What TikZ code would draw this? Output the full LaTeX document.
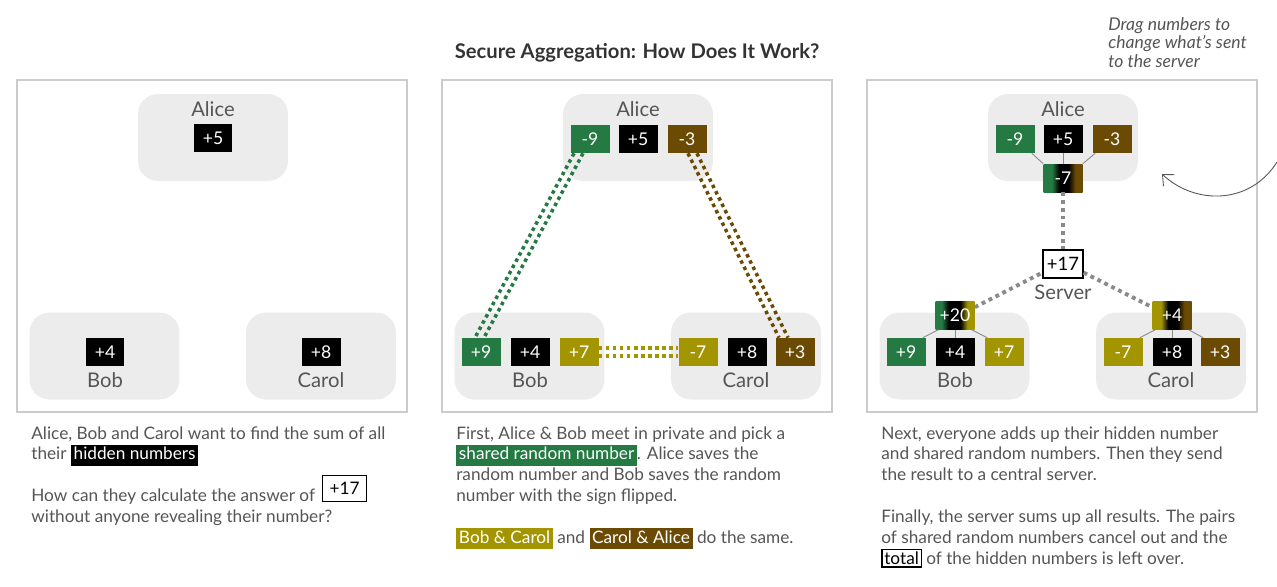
\documentclass[tikz,border=0pt]{standalone}
\usepackage{fontspec}
\setmainfont{Lato}
\usepackage{tikz}
\usetikzlibrary{calc,arrows.meta}

\definecolor{grn}{HTML}{247A42}
\definecolor{olv}{HTML}{A39500}
\definecolor{brn}{HTML}{6B4A04}
\definecolor{txt}{HTML}{555555}
\definecolor{heading}{HTML}{333333}
\definecolor{pane}{HTML}{CCCCCC}
\definecolor{bubblegray}{HTML}{ECECEC}
\definecolor{dots}{HTML}{8A8A8A}

% sum boxes: solid ends, black middle
\pgfdeclarehorizontalshading{mixgb}{100bp}{color(0bp)=(grn); color(36bp)=(grn); color(45bp)=(black); color(57bp)=(black); color(66bp)=(brn); color(100bp)=(brn)}
\pgfdeclarehorizontalshading{mixgo}{100bp}{color(0bp)=(grn); color(33bp)=(grn); color(42bp)=(black); color(57bp)=(black); color(66bp)=(olv); color(100bp)=(olv)}
\pgfdeclarehorizontalshading{mixob}{100bp}{color(0bp)=(olv); color(36bp)=(olv); color(45bp)=(black); color(57bp)=(black); color(66bp)=(brn); color(100bp)=(brn)}

\newcommand{\hilite}[2]{{\setlength{\fboxsep}{1.5pt}\colorbox{#1}{\vphantom{Ag}\color{white}#2}}}
\newcommand{\answerbox}[1]{{\setlength{\fboxsep}{3.6pt}\setlength{\fboxrule}{0.7pt}\fcolorbox{black}{white}{\color{black}#1}}}
\newcommand{\totalbox}[1]{{\setlength{\fboxsep}{1pt}\setlength{\fboxrule}{0.7pt}\fcolorbox{black}{white}{\color{black}#1}}}

\begin{document}
\begin{tikzpicture}[x=0.02cm, y=-0.02cm,
    panel/.style={draw=pane, line width=0.6pt},
    bubble/.style={fill=bubblegray, rounded corners=0.4cm, minimum width=3cm, minimum height=1.74cm, inner sep=0pt},
    who/.style={text=txt, inner sep=0pt, font=\fontsize{11.5}{13}\selectfont},
    numbox/.style={minimum width=0.78cm, minimum height=0.56cm, inner sep=0pt, text=white, font=\fontsize{10}{12}\selectfont},
    sumbox/.style={numbox, shading=#1},
    pairline/.style={line width=2pt, dash pattern=on 2pt off 2pt},
    wire/.style={draw=dots, line width=0.5pt},
    send/.style={draw=dots, line width=2.2pt, dash pattern=on 2.2pt off 2.2pt},
    note/.style={anchor=north west, align=left, text=txt, inner sep=0pt, font=\fontsize{9.8}{11.9}\selectfont}
]
    \useasboundingbox (0,0) rectangle (1277,586);

    \node[font=\bfseries\fontsize{11.5}{13}\selectfont, text=heading] (title) at (637,53) {Secure Aggregation: How Does It Work?};

    \foreach \px in {17,442,867}
        \draw[panel] (\px,80) rectangle ++(390,332);

    % panel 1: hidden numbers only
    \node[bubble] (p1alice) at (213,137.5) {};
    \node[bubble] (p1bob) at (104.5,356) {};
    \node[bubble] (p1carol) at (321,356) {};
    \node[who] (p1aname) at (213,109) {Alice};
    \node[who] (p1bname) at (105,380) {Bob};
    \node[who] (p1cname) at (321,380) {Carol};
    \node[numbox, fill=black] (p1a5) at (213,138) {+5};
    \node[numbox, fill=black] (p1b4) at (105,352) {+4};
    \node[numbox, fill=black] (p1c8) at (321,352) {+8};

    % panel 2: pairs pick shared random numbers
    \node[bubble] (p2alice) at (638,137.5) {};
    \node[bubble] (p2bob) at (529.5,356) {};
    \node[bubble] (p2carol) at (746,356) {};
    \node[who] (p2aname) at (638,109) {Alice};
    \node[who] (p2bname) at (530,380) {Bob};
    \node[who] (p2cname) at (746,380) {Carol};
    \node[numbox, fill=grn] (p2am9) at (590,139) {-9};
    \node[numbox, fill=black] (p2a5) at (638,139) {+5};
    \node[numbox, fill=brn] (p2am3) at (687,139) {-3};
    \node[numbox, fill=grn] (p2bp9) at (481,352) {+9};
    \node[numbox, fill=black] (p2b4) at (530,352) {+4};
    \node[numbox, fill=olv] (p2bp7) at (579,352) {+7};
    \node[numbox, fill=olv] (p2cm7) at (698,352) {-7};
    \node[numbox, fill=black] (p2c8) at (747,352) {+8};
    \node[numbox, fill=brn] (p2cp3) at (795,352) {+3};

    \draw[pairline, grn] ($(p2am9.south)+(-16,0)$) -- ($(p2bp9.north)+(-6,0)$);
    \draw[pairline, grn] ($(p2am9.south)+(-7,0)$) -- ($(p2bp9.north)+(3,0)$);
    \draw[pairline, olv] ($(p2bp7.east)+(0,-4)$) -- ($(p2cm7.west)+(0,-4)$);
    \draw[pairline, olv] ($(p2bp7.east)+(0,4)$) -- ($(p2cm7.west)+(0,4)$);
    \draw[pairline, brn] ($(p2am3.south)+(1,0)$) -- ($(p2cp3.north)+(-16,0)$);
    \draw[pairline, brn] ($(p2am3.south)+(10,0)$) -- ($(p2cp3.north)+(-7,0)$);

    % panel 3: sums go to the server
    \node[bubble] (p3alice) at (1063,137.5) {};
    \node[bubble] (p3bob) at (954.5,356) {};
    \node[bubble] (p3carol) at (1171,356) {};
    \node[who] (p3aname) at (1063,109) {Alice};
    \node[who] (p3bname) at (955,380) {Bob};
    \node[who] (p3cname) at (1171,380) {Carol};
    \node[numbox, fill=grn] (p3am9) at (1015,139) {-9};
    \node[numbox, fill=black] (p3a5) at (1063,139) {+5};
    \node[numbox, fill=brn] (p3am3) at (1112,139) {-3};
    \node[numbox, fill=grn] (p3bp9) at (906,352) {+9};
    \node[numbox, fill=black] (p3b4) at (955,352) {+4};
    \node[numbox, fill=olv] (p3bp7) at (1004,352) {+7};
    \node[numbox, fill=olv] (p3cm7) at (1123,352) {-7};
    \node[numbox, fill=black] (p3c8) at (1172,352) {+8};
    \node[numbox, fill=brn] (p3cp3) at (1220,352) {+3};
    \node[sumbox=mixgb] (p3asum) at (1063,178) {-7};
    \node[sumbox=mixgo] (p3bsum) at (955,315.5) {+20};
    \node[sumbox=mixob] (p3csum) at (1172,315.5) {+4};
    \node[draw=black, line width=0.7pt, fill=white, minimum width=0.8cm, minimum height=0.56cm, inner sep=0pt, font=\fontsize{10.5}{12}\selectfont] (server) at (1063,264) {+17};
    \node[who] (sname) at (1063,292) {Server};

    \draw[wire] ($(p3am9.south east)+(-3,0)$) -- (p3asum.north west);
    \draw[wire] (p3a5.south) -- (p3asum.north);
    \draw[wire] ($(p3am3.south west)+(3,0)$) -- (p3asum.north east);
    \draw[wire] ($(p3bp9.north east)+(-3,0)$) -- ($(p3bsum.south west)+(3,0)$);
    \draw[wire] (p3b4.north) -- (p3bsum.south);
    \draw[wire] ($(p3bp7.north west)+(3,0)$) -- ($(p3bsum.south east)+(-3,0)$);
    \draw[wire] ($(p3cm7.north east)+(-3,0)$) -- ($(p3csum.south west)+(3,0)$);
    \draw[wire] (p3c8.north) -- (p3csum.south);
    \draw[wire] ($(p3cp3.north west)+(3,0)$) -- ($(p3csum.south east)+(-3,0)$);

    \draw[send] (p3asum.south) -- (server.north);
    \draw[send] ($(p3bsum.north east)+(0,6)$) -- ($(server.south west)+(0,-6)$);
    \draw[send] ($(server.south east)+(0,-6)$) -- ($(p3csum.north west)+(0,6)$);

    % drag hint
    \node[anchor=north west, align=left, inner sep=0pt, text=txt, font=\itshape\fontsize{10}{10.5}\selectfont] (drag) at (1108,17) {Drag numbers to\\change what's sent\\to the server};
    \coordinate (dragtail) at (1277,162);
    \coordinate (draghead) at (1162,174);
    \draw[-{Straight Barb[length=5pt,width=9pt]}, line width=0.5pt, txt] (dragtail) .. controls (1250,205) and (1195,205) .. (draghead);

    % captions
    \node[note] (n1) at (31,426) {Alice, Bob and Carol want to find the sum of all\\their \hilite{black}{hidden numbers}\\[11.9pt]How can they calculate the answer of \hspace{1.5pt}\smash{\raisebox{4pt}{\answerbox{+17}}}\\without anyone revealing their number?};
    \node[note] (n2) at (456,426) {First, Alice \& Bob meet in private and pick a\\\hilite{grn}{shared random number}. Alice saves the\\random number and Bob saves the random\\number with the sign flipped.\\[11.9pt]\hilite{olv}{Bob \& Carol} and \hilite{brn}{Carol \& Alice} do the same.};
    \node[note] (n3) at (881,426) {Next, everyone adds up their hidden number\\and shared random numbers. Then they send\\the result to a central server.\\[11.9pt]Finally, the server sums up all results. The pairs\\of shared random numbers cancel out and the\\\totalbox{total} of the hidden numbers is left over.};
\end{tikzpicture}
\end{document}
